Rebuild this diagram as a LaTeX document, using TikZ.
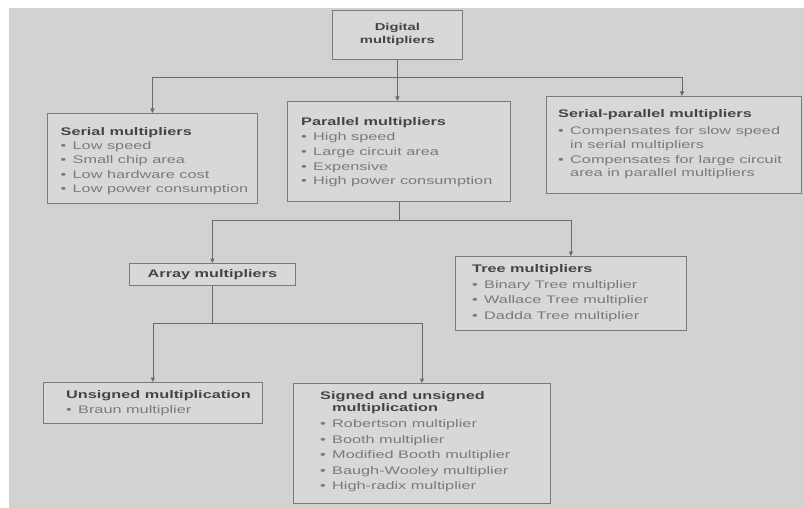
\documentclass[tikz,border=0pt]{standalone}
\usepackage{fontspec}
\setmainfont{Liberation Sans}
\newfontfamily\diagfont[FakeStretch=1.48]{Liberation Sans}
\usetikzlibrary{arrows.meta}
\definecolor{bgc}{HTML}{D2D2D2}
\definecolor{boxfill}{HTML}{D8D8D8}
\definecolor{linec}{HTML}{6A6A6A}
\definecolor{framec}{HTML}{7A7A7A}
\definecolor{headc}{HTML}{454545}
\definecolor{itemc}{HTML}{7A7A7A}
\newcommand{\bitem}[1]{\makebox[12pt][l]{\textbullet}#1}
\newcommand{\bhead}[1]{{\color{headc}\bfseries #1}}
\begin{document}
\begin{tikzpicture}[x=1pt,y=-1pt,
  frame/.style={draw=framec, line width=0.8pt, fill=boxfill, anchor=north west, inner sep=0pt},
  txt/.style={anchor=north west, inner sep=0pt, align=left, text=itemc,
              font=\diagfont\fontsize{11}{15}\selectfont},
  conn/.style={draw=linec, line width=0.8pt},
  arr/.style={conn, -{Triangle[width=4pt,length=4.5pt]}}]
% background
\fill[white] (0,0) rectangle (804,508);
\fill[bgc] (9,8) rectangle (804,508);
\useasboundingbox (0,0) rectangle (804,508);

% frames
\node[frame, minimum width=130pt, minimum height=49pt, align=center, text=headc,
      font=\diagfont\fontsize{10}{13}\selectfont\bfseries] (digital) at (332,10) {Digital\\multipliers};
\node[frame, minimum width=210pt, minimum height=90pt] (serial) at (47,113) {};
\node[frame, minimum width=223pt, minimum height=100pt] (parallel) at (287,101) {};
\node[frame, minimum width=255pt, minimum height=97pt] (sp) at (546,96) {};
\node[frame, minimum width=166pt, minimum height=22pt, text=headc,
      font=\diagfont\fontsize{11}{14}\selectfont\bfseries] (array) at (129,263) {Array multipliers};
\node[frame, minimum width=231pt, minimum height=74pt] (tree) at (455,256) {};
\node[frame, minimum width=219pt, minimum height=41pt] (unsigned) at (43,382) {};
\node[frame, minimum width=257pt, minimum height=120pt] (signed) at (293,383) {};

% texts
\node[txt, font=\diagfont\fontsize{11}{14.4}\selectfont] (serialT) at (60.5,127) {\bhead{Serial multipliers}\\
  \bitem{Low speed}\\ \bitem{Small chip area}\\ \bitem{Low hardware cost}\\ \bitem{Low power consumption}};
\node[txt, font=\diagfont\fontsize{11}{14.8}\selectfont] (parallelT) at (301,117.5) {\bhead{Parallel multipliers}\\
  \bitem{High speed}\\ \bitem{Large circuit area}\\ \bitem{Expensive}\\ \bitem{High power consumption}};
\node[txt, font=\diagfont\fontsize{11}{13.3}\selectfont] (spT) at (558,109.5) {\bhead{Serial-parallel multipliers}\\[4pt]
  \bitem{Compensates for slow speed}\\ \hspace*{12pt}in serial multipliers\\[1.7pt]
  \bitem{Compensates for large circuit}\\ \hspace*{12pt}area in parallel multipliers};
\node[txt, font=\diagfont\fontsize{11}{15.5}\selectfont] (treeT) at (472,264.5) {\bhead{Tree multipliers}\\
  \bitem{Binary Tree multiplier}\\ \bitem{Wallace Tree multiplier}\\ \bitem{Dadda Tree multiplier}};
\node[txt, font=\diagfont\fontsize{11}{15.5}\selectfont] (unsignedT) at (66,390) {\bhead{Unsigned multiplication}\\
  \bitem{Braun multiplier}};
\node[txt, font=\diagfont\fontsize{11}{15.5}\selectfont] (signedT) at (320,391.5) {\bhead{Signed and unsigned}\\[-3.5pt]
  \hspace*{12pt}\bhead{multiplication}\\[0.5pt]
  \bitem{Robertson multiplier}\\ \bitem{Booth multiplier}\\ \bitem{Modified Booth multiplier}\\
  \bitem{Baugh-Wooley multiplier}\\ \bitem{High-radix multiplier}};

% connectors level 1
\coordinate (j1) at (digital.south |- 0,77);
\draw[conn] (digital.south) -- (j1);
\draw[arr] (j1) -| (serial.north);
\draw[arr] (j1) -- (j1 |- parallel.north);
\draw[arr] (j1) -| (sp.north -| 682,0);
% level 2
\coordinate (j2) at (parallel.south |- 0,220);
\draw[conn] (parallel.south) -- (j2);
\draw[arr] (j2) -| (array.north);
\draw[arr] (j2) -| (tree.north);
% level 3
\coordinate (j3) at (array.south |- 0,323);
\draw[conn] (array.south) -- (j3);
\draw[arr] (j3) -| (unsigned.north);
\draw[arr] (j3) -| (signed.north);
\end{tikzpicture}
\end{document}
